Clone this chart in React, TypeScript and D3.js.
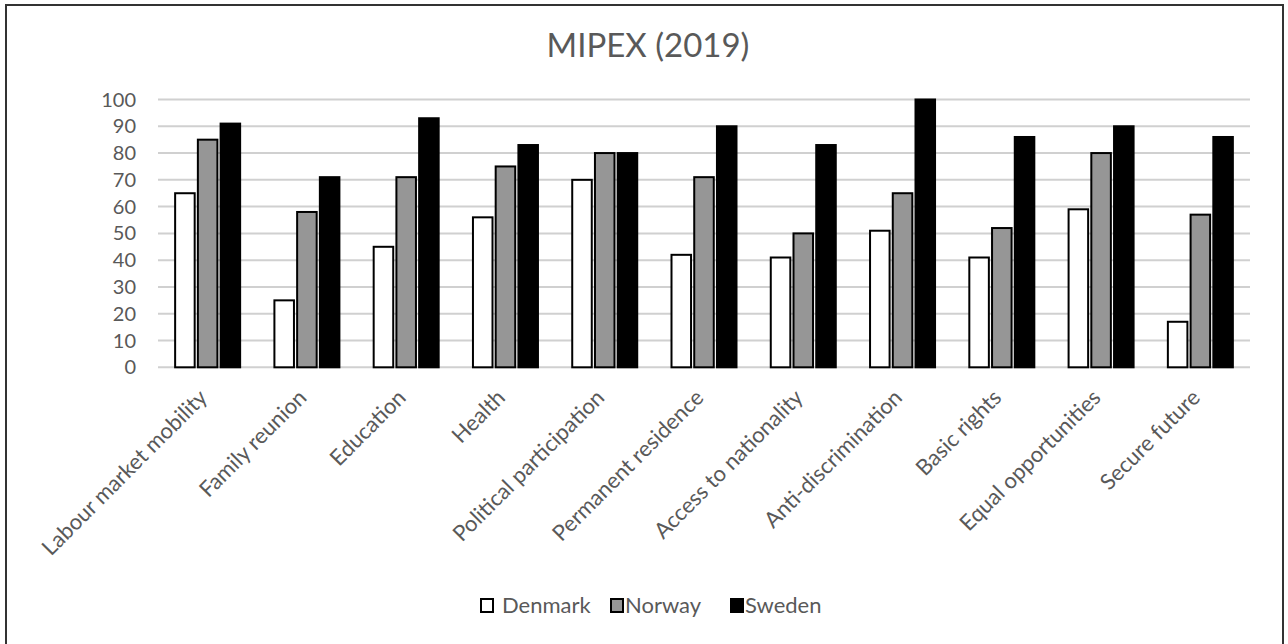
import React from "react";
import * as d3 from "d3";

const categories = [
  "Labour market mobility",
  "Family reunion",
  "Education",
  "Health",
  "Political participation",
  "Permanent residence",
  "Access to nationality",
  "Anti-discrimination",
  "Basic rights",
  "Equal opportunities",
  "Secure future",
];
const seriesNames = ["Denmark", "Norway", "Sweden"];
const denmark = [65, 25, 45, 56, 70, 42, 41, 51, 41, 59, 17];
const norway = [85, 58, 71, 75, 80, 71, 50, 65, 52, 80, 57];
const sweden = [91, 71, 93, 83, 80, 90, 83, 100, 86, 90, 86];
const yTicks = [0, 10, 20, 30, 40, 50, 60, 70, 80, 90, 100];
const fills = ["#ffffff", "#969696", "#000000"];

const W = 1288;
const H = 644;
const FONT = "Lato, 'Open Sans', sans-serif";
const TXT = "#595959";

export default function App() {
  const series = [denmark, norway, sweden];
  const x = d3.scaleBand<string>().domain(categories).range([158, 1250]).paddingInner(0).paddingOuter(0);
  const y = d3.scaleLinear().domain([0, 100]).range([367.3, 99.5]);
  const inner = d3.scaleBand<string>().domain(seriesNames).range([0, 65]).paddingInner(0.14);
  const groupOffset = (x.bandwidth() - 65) / 2;

  return (
    <svg width={W} height={H} style={{ position: "absolute", left: 0, top: 0, background: "#fff" }}>
      <rect x={0} y={0} width={W} height={H} fill="#fff" />
      <rect x={6} y={5} width={1277} height={650} fill="#fff" stroke="#333" strokeWidth={2} />
      <text x={648} y={57} textAnchor="middle" fontFamily={FONT} fontSize={33} fill={TXT}>
        MIPEX (2019)
      </text>
      {yTicks.map((t) => (
        <g key={t}>
          <line x1={158} x2={1250} y1={y(t)} y2={y(t)} stroke="#d0d0d0" strokeWidth={2} />
          <text x={136} y={y(t) + 7} textAnchor="end" fontFamily={FONT} fontSize={20} fill={TXT}>
            {t}
          </text>
        </g>
      ))}
      {categories.map((c, i) => (
        <g key={c} transform={`translate(${(x(c) as number) + groupOffset},0)`}>
          {series.map((s, k) => {
            const bx = inner(seriesNames[k]) as number;
            return (
              <rect
                key={k}
                x={bx}
                y={y(s[i])}
                width={inner.bandwidth()}
                height={y(0) - y(s[i])}
                fill={fills[k]}
                stroke="#000"
                strokeWidth={2}
              />
            );
          })}
        </g>
      ))}
      {categories.map((c) => {
        const cx = (x(c) as number) + x.bandwidth() / 2 + 1;
        const cy = 399;
        return (
          <text
            key={c}
            transform={`translate(${cx},${cy}) rotate(-45)`}
            textAnchor="end"
            fontFamily={FONT}
            fontSize={22}
            fill={TXT}
          >
            {c}
          </text>
        );
      })}
      {(() => {
        const items = [
          { x: 481, tx: 502 },
          { x: 611, tx: 625 },
          { x: 731, tx: 745 },
        ];
        return seriesNames.map((n, k) => (
          <g key={n}>
            <rect x={items[k].x} y={599} width={12} height={13} fill={fills[k]} stroke="#000" strokeWidth={2} />
            <text x={items[k].tx} y={613} fontFamily={FONT} fontSize={22} fill={TXT}>
              {n}
            </text>
          </g>
        ));
      })()}
    </svg>
  );
}
